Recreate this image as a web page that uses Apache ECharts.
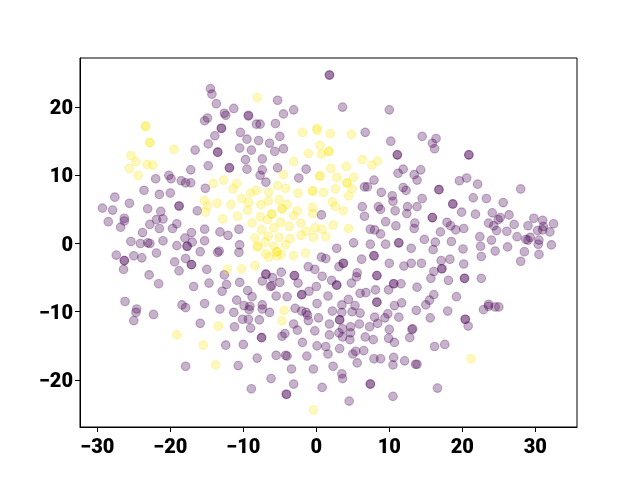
<!DOCTYPE html>
<html><head><meta charset="utf-8">
<script src="https://cdn.jsdelivr.net/npm/echarts@6/dist/echarts.min.js"></script>
<style>html,body{margin:0;padding:0;background:#fff}#c{width:640px;height:480px}</style>
</head><body><div id="c"></div>
<script>
const xTicks = [-30,-20,-10,0,10,20,30];
const yTicks = [-20,-10,0,10,20];
const purplePoints = [
[-14.5,22.7],[-14.3,21.9],[-13.7,20.5],[-11.3,19.8],[-12.6,19.1],[-12.4,18.8],[-14.9,18.4],[-15.3,18],[-9.3,18.8],[-9.3,18.7],
[-5.3,21],[-4.5,19],[-3.1,19.6],[-8.2,17.5],[-7.7,17.5],[-5.6,17.6],[-13,16.9],[-13,16.9],[-13.9,15.8],[-10.4,16.3],[-9.5,15.3],
[-7.9,15.1],[-5,15.7],[-6.4,14.7],[-14.8,14.6],[-16.6,13.7],[-13.5,13.4],[-13.5,13.4],[-10.5,14],[-8.9,13.7],[-5.7,13.5],[-4.5,13.9],
[-9.7,12.3],[-7.4,12.4],[-14.8,11.4],[-11.9,11.1],[-11.9,11.1],[-9.5,10.9],[-7.4,10.8],[-5.3,11.1],[-1.4,10.9],[-17.2,10.8],[-7.7,10],
[-2.4,9.6],[-6.9,9],[-20.2,10],[-19.9,9.5],[-22,9.5],[-18.5,9.2],[-17.9,8.9],[-17.2,8.9],[-15.2,8.1],[-23.6,7.8],[-27.6,6.8],[-21.5,7.2],
[-20,7.4],[-25.6,5.9],[-18.8,5.5],[-18.8,5.5],[-29.3,5.2],[-27.9,4.9],[-23.1,5.1],[-21.3,4.7],[-16.3,4.8],[-26.3,3.7],[-26.3,3.3],
[-28.5,3.2],[-26.8,2.4],[-21.9,3.5],[-21,3.6],[-22.8,2.8],[-19.1,2.9],[-19.7,2.2],[-21.5,2.2],[-23.8,1.6],[-17.1,1.6],[-15.3,2.1],
[-13.2,1.7],[-12.1,1.2],[-10.6,2.1],[0.7,4.2],[-25.4,0.3],[-24.1,0],[-23.1,0.1],[-22.8,0],[-21,0.4],[-19.1,-0.3],[-18,0.8],[-17.7,-0.4],
[-17.7,-0.4],[-17,0.2],[-15.3,0.4],[-10.5,-0.2],
[-27.4,-1.7],[-26.3,-2.5],[-26.3,-2.5],[-26.4,-3.8],[-25,-1.8],[-23.9,-2.1],[-21.9,-1.4],[-22.9,-4.6],[-21.6,-5.9],[-19.4,-2.7],[-17.9,-2.2],
[-17.1,-3.1],[-17.1,-3.1],[-18.8,-4],[-15.9,-1.2],[-13.5,-1.3],[-13.3,-1.1],[-10.6,-1.3],[-15,-3.8],[-12.6,-4.6],[-16.8,-6.3],[-14.7,-5.8],
[-12.3,-6],[-12.9,-7],[-10.5,-5.7],[-9.4,-6.9],[-8.8,-7.8],[-10.9,-8.3],[-7.4,-5.5],[-6,-5],[-6.9,-4.5],[-6.9,-4.5],[-4.8,-4.2],[-5,-5.7],
[-6.3,-6.3],[-6.1,-6.2],[-3,-4.7],[-3,-4.7],[-1.1,-3.4],[-0.2,-3.8],[0.8,-4.8],[-2.5,-5.8],[0,-6.3],[-1,-7],[-2,-7.5],[-2,-7.5],[-4,-7.8],
[-5.5,-7.7],[0.1,-8.8],[-26.2,-8.5],[-24.6,-9.6],[-24.7,-10.1],[-25,-11.3],[-22.3,-10.4],[-18.4,-9],[-17.9,-9.4],[-15.3,-8.8],[-13.2,-9.6],
[-11.3,-10.1],[-9.9,-9.1],[-9.1,-9.2],[-9.2,-9.7],[-7.4,-9],[-7.4,-9.6],[-6.4,-10.1],[-2.9,-9.5],[-2,-9.9],[-1.4,-10.1],[-1.2,-10.5],
[-1.1,-11.3],[0.3,-10.9],[-10.1,-11.1],[-9.3,-11.1],[-7.8,-11.2],[-11.2,-12.2],[-9,-12.4],[-15.9,-11.7],[-3.1,-11.8],[-2.6,-12.7],[-0.2,-12.8],
[-7.5,-13.8],[-7.5,-13.8],[-4.7,-13.6],[-4.3,-13.2],[-1.9,-14.5],[0.1,-15],[-12.4,-14.9],[-10,-14.8],[-5.5,-16.4],[-4.2,-16.4],[-4,-16.5],
[-1.3,-16.5],[-8.1,-16.8],[-17.9,-18],[-10.7,-17.9],[-3.4,-18.4],[-0.4,-18.4],[-6.2,-19.8],[-3.1,-20.6],[0.8,-21.1],[-8.9,-21.3],[-4.1,-22.1],[-4.1,-22.1],
[0.7,-2],[1.3,-2.2],
[2.8,-0.7],[5.1,0.1],[7.4,-0.1],[9.5,-0.1],[11.3,0.1],[11.3,0.1],[13,-0.7],[14.8,0.6],[16,-0.9],[16.3,0.2],[18.5,0.3],[20.1,-0.8],[22.5,-0.4],
[24,0.5],[26.2,-0.5],[24.5,-1.1],[22.6,-1.9],[28.5,-1.2],[30.5,-1.6],[28,-2.6],[32.2,-0.2],[30.4,-0.1],
[3.1,-3.4],[3.7,-2.9],[3.7,-2.9],[6.2,-2.3],[7.9,-1.8],[7.9,-1.8],[10,-2.9],[12,-3.3],[13,-2.9],[14.4,-2.9],[17.1,-2.5],[18.3,-2.3],[17.2,-3.7],
[17.2,-3.7],[16.1,-4.1],[20.2,-3],[20.3,-5.1],[20.3,-5.1],[22.6,-5.1],[15.7,-5.1],[18.1,-5.4],[5.6,-4.3],[5.5,-4.9],[2.1,-5.4],[2.8,-6.1],[2.8,-6.1],
[4.8,-5.8],[8.3,-4.7],[8.3,-4.7],[10.6,-5.9],[10.6,-5.9],[11.6,-5.9],[9.9,-6.8],[8.1,-6.8],[6,-7.3],[6.8,-7.2],[13.8,-6.4],[1.6,-7.7],[4.4,-8.2],
[3.5,-9],[5.3,-9.1],[8.3,-8.6],[8.3,-8.6],[10.7,-9.1],[11.7,-8.7],[16.1,-7.5],[15.5,-8.3],[15,-9],[19.2,-7.8],[2.2,-9.9],[3.5,-10.1],[4.9,-10],
[6,-10.2],[13.7,-9.8],[18,-9.9],[9.8,-10.3],[9.4,-10.9],[8,-10.8],[11.3,-10.8],[15.6,-10.9],[3.2,-11.2],[3.2,-11.2],[1.8,-11.8],[8.4,-11.7],
[5.9,-11.8],[7.3,-12.2],[4.7,-12.2],[10,-12.6],[13.2,-12.5],[13.1,-12.6],[3.6,-12.5],[3.1,-13.1],[4.7,-13.1],[1.8,-13.4],[3.6,-13.7],[4.6,-14.1],
[6.7,-13.7],[7.8,-14.1],[9.9,-13.9],[10.7,-14.5],[12.8,-13.8],[16.2,-15.1],[17.6,-14.8],[1.3,-15.1],[3.2,-15.4],[1.6,-16.2],[5.4,-15.8],[5,-16.2],
[6.5,-15.7],[7.9,-16.9],[8.8,-16.9],[10.6,-16.7],[10.5,-17.8],[12.1,-17.2],[13.6,-17.7],[13.8,-17.7],[5.6,-17.5],[2.3,-18],[3.5,-19.1],[3.6,-19.8],
[7.4,-20.6],[7.4,-20.6],[16.6,-21.2],[10.5,-22.4],[4.5,-23.1],[20.4,-11.1],[20.4,-11.1],[20.8,-12.1],[22.9,-9.7],[23.6,-8.9],[23.6,-9.2],[24.5,-9.3],[25,-9.3],
[1.8,24.7],[1.8,24.7],[3.6,20],[10,19.6],[6.7,16.3],[10.2,15],[14.5,15.7],[16.4,15.4],[15.9,14.7],[16.2,13.9],[11.1,13],[11.1,13],[20.9,13],[20.9,13],
[11.9,10.9],[11.2,10.3],[14.3,10.8],[13.4,10.1],[13.8,9.3],[7.9,9.3],[6.6,8.3],[7,8.3],[11.9,8.2],[12.3,7.8],[8.9,7.5],[10.4,7],[10.5,6.2],[14.5,6.6],
[19.6,9.2],[20.6,9.6],[22.1,8.7],[28,8],[16.8,7.9],[16.8,7.9],[18.7,5.8],[18.7,5.8],[21.5,6.7],[23.3,6.6],[25.6,6],[6.3,5.4],[6.6,4],[8.5,5.4],[8.8,5],
[10.8,4.8],[12.5,5.4],[13.8,5.4],[12.4,4.4],[15.9,3.8],[15.9,3.8],[19.9,4.6],[21.8,4.3],[24.1,4.5],[26.4,4.2],[25.2,3.8],[24.9,3.5],[23.6,3],[24.3,2.6],
[24.7,1.9],[27.1,2.8],[17.9,3.1],[18.4,2.6],[19.1,2],[20.2,2.2],[9.5,3.2],[10.9,2.6],[13.5,3],[13.4,2.2],[7.4,2.1],[8,2],[8.8,1.4],[17,1.7],[22.4,1],
[26.1,1.8],[27.5,1],[29,2.6],[29.8,3.7],[31,3.4],[32.5,2.9],[31.1,2.5],[31,2],[30.3,1.9],[32,1.7],[29.3,0.9],[29,0.5],[28.7,0.6],[30.5,0.5]
];
const yellowPoints = [
[-8.1,21.4],[-23.4,17.2],[-23.4,17.2],[-22.8,14.8],[-22.8,14.8],[-19.5,13.8],[-25.4,12.9],[-24.7,12],[-25.6,11],[-23.2,11.6],[-22.4,11.5],[-24.4,10],
[-1.9,16.3],[0.1,16.9],[0.1,16.6],[1.9,16.1],[0.5,14.4],[-1.1,13.2],[0.7,13.1],[1.7,13.5],[1.7,13.5],[-3.1,12],[-4.5,10.1],[0.5,9.9],[0.5,9.9],
[-14.1,8.8],[-12.7,9.3],[-10.9,8.8],[-11.4,8],[-8.2,7.8],[-9,7.4],[-6.5,7.5],[-5.3,8.5],[-4.2,8.1],[-2.5,7.4],[-0.5,7.7],[-0.5,7.7],[1,7.5],
[-15.3,6.3],[-14.9,5.5],[-15.2,4.6],[-13.6,5.9],[-11.7,5.7],[-10.2,6.6],[-9.3,6],[-9.4,4.9],[-7.6,5.7],[-6.6,6.2],[-5.1,6.4],[-4,5.7],[-4.7,5.1],[-4.7,5.1],
[-2.6,4.8],[-3.1,4.1],[-0.5,4.4],[-0.5,5.3],[-6.1,4.3],[-6.1,4.3],[-7.7,3.9],[-6.7,3.5],[-10.8,4],[-12.8,3.6],[-8.8,3],[-4.9,3.1],[-2.1,3],[-7.5,2],
[-5.8,2.3],[-3.7,2.5],[-0.2,2.3],[0.8,2.1],[-1.4,1.8],[-2.1,1.2],[-0.4,0.9],[1.3,1],[-6.6,1.1],[-8.4,0.8],[-7,0.2],[-5.1,0.9],[-3.6,0.7],[-8.1,-0.4],
[-5.8,-0.4],[-4.2,-0.2],[-8,-0.5],[-6.9,-1.5],[-6.5,-2],[-5.4,-1.2],[-5.4,-1.2],[-4.8,-1.6],[-5.4,-1.8],[-3.1,-1.8],[-1.5,-1.4],[-8.4,-3.2],[-10.2,-3.7],
[-12.2,-3.8],[-4.4,-9.8],[-4.7,-11.3],[-13.4,-12.1],[-19.1,-13.4],[-15.5,-14.9],[-13.8,-17.8],[-0.4,-24.4],[21.2,-16.9],
[4.8,16],[6.3,12.3],[7.6,11.5],[8.4,12.1],[2,11],[4.1,11.3],[2.8,9.7],[5.1,9.7],[4.2,8.9],[4.2,8.9],[4.9,8],[2.6,8],[4.4,7],[2.2,6.1],[2.6,5.4],[3.7,4.8],[2.3,2.7],[4.4,2.2]
];
const minus = v => String(v).replace('-', '\u2212');
const labelStyle = {fontFamily:'Roboto', fontWeight:900, fontSize:20, color:'#000', formatter:minus};
const tickStyle = {inside:false, length:5, lineStyle:{color:'#000', width:1}};
const chart = echarts.init(document.getElementById('c'), null, {renderer:'canvas'});
const scatter = (data, rgb) => ({
  type:'scatter', data, symbol:'circle', symbolSize:8.6, animation:false, silent:true,
  itemStyle:{color:`rgba(${rgb},0.3)`, borderColor:`rgba(${rgb},0.3)`, borderWidth:1.1, opacity:1}
});
chart.setOption({
  animation:false, backgroundColor:'#fff',
  grid:{left:80, right:63, top:58, bottom:53, show:true, borderColor:'#000', borderWidth:1, backgroundColor:'transparent'},
  xAxis:{type:'value', min:-32.37, max:35.71, splitLine:{show:false},
    axisLine:{show:true, onZero:false, lineStyle:{color:'#000', width:1}},
    axisTick:{...tickStyle, customValues:xTicks},
    axisLabel:{...labelStyle, margin:11, customValues:xTicks}},
  yAxis:{type:'value', min:-26.9, max:27.2, splitLine:{show:false},
    axisLine:{show:true, onZero:false, lineStyle:{color:'#000', width:1}},
    axisTick:{...tickStyle, customValues:yTicks},
    axisLabel:{...labelStyle, margin:7, customValues:yTicks,
      formatter: v => `{t|${minus(v)}}`,
      rich:{t:{fontFamily:'Roboto', fontWeight:900, fontSize:20, color:'#000', padding:[4,0,0,0]}}}},
  series:[scatter(purplePoints,'68,1,84'), scatter(yellowPoints,'253,231,37')]
});
</script></body></html>
